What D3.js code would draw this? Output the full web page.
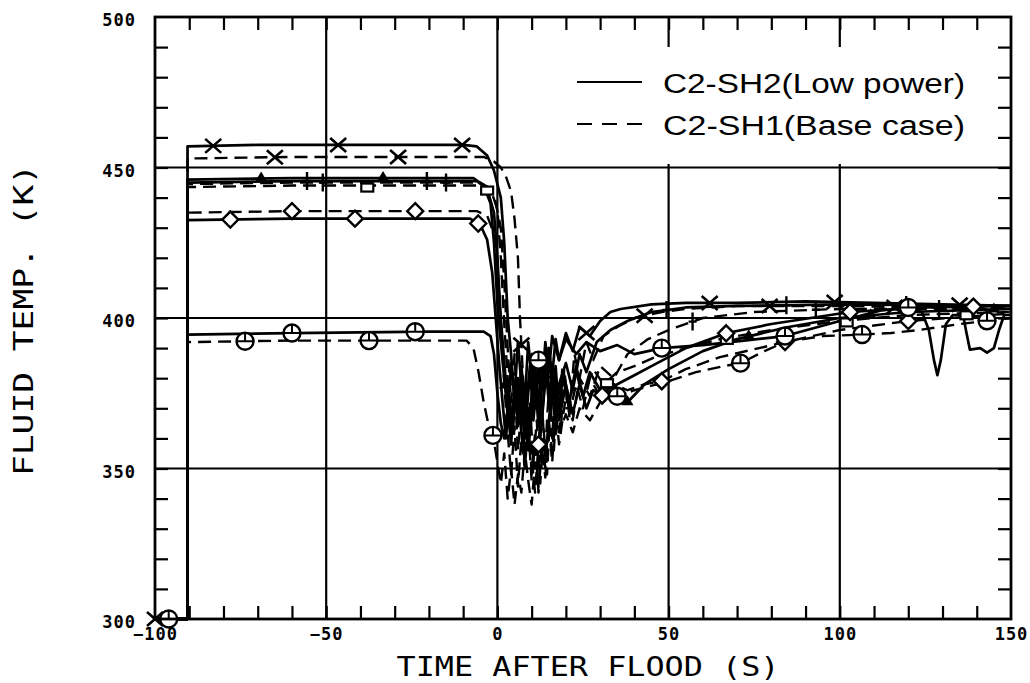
<!DOCTYPE html>
<html>
<head>
<meta charset="utf-8">
<script src="https://cdn.jsdelivr.net/npm/d3@7"></script>
<style>
  body { margin: 0; background: #fff; }
  svg { display: block; }
</style>
</head>
<body>
<div id="chart"></div>
<script>
// axis ticks
let xMajor = [-100, -50, 0, 50, 100, 150];
let xMinor = d3.range(-90, 150, 10);
let yMajor = [300, 350, 400, 450, 500];
let yMinor = d3.range(310, 500, 10);
let xGrid = [-50, 0, 50, 100];
let yGrid = [350, 400, 450];

// C2-SH2 (low power) runs, solid lines, [time s, temp K]
let xSolid = [[-100,300],[-90.5,300],[-90.5,457],[-70,457.5],[-40,457.5],[-10,457.5],[-6,457],[-3,454],[-1,449],[1,440],[2,425],[3,400],[4,388],[5,372],[6,380],[7,366],[8,378],[9,362],[10,374],[11,384],[12,370],[13,386],[14,377],[15,390],[16,381],[17,393],[18,386],[20,395],[22,389],[24,397],[27,394],[30,399],[33,402],[36,403],[45,404.5],[55,405],[70,405],[90,405.5],[110,405],[130,404.5],[150,404]];
let triSolid = [[-100,300],[-90.5,300],[-90.5,446],[-60,446.5],[-20,446.5],[-7,446.5],[-4,444],[-2,438],[-1,425],[0,405],[1,392],[2,380],[3,368],[4,385],[5,374],[6,392],[7,378],[8,360],[9,375],[10,388],[11,372],[12,384],[13,366],[14,380],[15,390],[16,374],[17,384],[18,368],[19,380],[21,372],[23,384],[25,374],[27,382],[30,376],[34,378],[38,372],[43,378],[50,383],[60,389],[70,393],[85,397],[100,400],[120,402],[150,403]];
let sqSolid = [[-100,300],[-90.5,300],[-90.5,445],[-60,445.5],[-20,445.5],[-6,445.5],[-3,443],[-1,435],[0,420],[1,400],[2,385],[3,372],[4,362],[5,376],[6,365],[7,382],[8,370],[9,356],[10,368],[11,380],[12,364],[13,377],[14,386],[15,372],[16,382],[17,368],[18,378],[20,385],[22,376],[24,388],[26,382],[29,392],[33,396],[38,399],[45,402],[55,403.5],[70,404],[100,404.5],[150,404]];
let diaSolid = [[-100,300],[-90.5,300],[-90.5,432.5],[-60,433],[-20,433],[-8,433],[-5,431],[-3,426],[-1.5,415],[-0.5,400],[0.5,385],[1.5,372],[2.5,360],[3.5,374],[4.5,362],[5.5,380],[6.5,368],[7.5,356],[8.5,372],[9.5,384],[10.5,366],[11.5,378],[12.5,360],[13.5,374],[14.5,386],[15.5,368],[16.5,378],[18,366],[20,378],[22,368],[24,378],[26,370],[28,376],[31,374],[35,378],[40,381],[45,384],[55,390],[67,395],[80,398],[103,402],[125,403.5],[150,404]];
let circSolid = [[-100,300],[-90.5,300],[-90.5,394.5],[-60,395],[-20,395.5],[-4,395.5],[-2,394],[-1,388],[0,375],[1,365],[2,360],[3,370],[4,358],[5,376],[6,366],[7,384],[8,372],[9,392],[10,380],[11,370],[12,386],[13,376],[14,392],[15,382],[16,394],[18,386],[20,393],[23,388],[26,392],[30,389],[35,391],[40,388],[48,390],[60,391],[72,392.5],[84,394],[100,399],[112,402.5],[120,403.5],[124,402],[126,396],[127.5,386],[128.5,381],[129.5,386],[131,398],[133,401],[136,401],[137,395],[138,389.5],[141,390],[143,388.5],[145,390],[146.5,396],[148,401],[150,401]];

// C2-SH1 (base case) runs, dashed lines
let xDash = [[-100,300],[-90.5,300],[-90.5,453],[-60,453.5],[-20,453.5],[-4,453.5],[-1,452],[1,450],[2.5,447],[4,442],[5,433],[6,420],[6.6,400],[7.5,380],[8.5,360],[9.5,372],[10.5,352],[11.5,366],[12.5,345],[13.5,360],[14.5,348],[15.5,371],[16.5,356],[17.5,377],[18.5,362],[19.5,383],[21,368],[22.5,388],[24,380],[26,392],[28,386],[31,394],[35,397],[40,400],[48,402],[55,403],[70,404],[100,404],[125,403.5],[150,403.5]];
let triDash = [[-100,300],[-90.5,300],[-90.5,444.5],[-60,445],[-20,445],[-5,445],[-2,443],[0,436],[1,420],[2,398],[3,380],[4,365],[5,378],[6,356],[7,370],[8,350],[9,364],[10,346],[11,360],[12,342],[13,357],[14,347],[15,365],[16,352],[17,370],[18,358],[20,374],[22,366],[24,380],[27,374],[30,384],[34,380],[38,388],[44,393],[50,396],[60,400],[75,402],[100,403],[150,403]];
let sqDash = [[-100,300],[-90.5,300],[-90.5,443.5],[-60,444],[-20,444],[-4,444],[-1,441],[1,430],[2,412],[3,390],[4,372],[5,388],[6,364],[7,378],[8,354],[9,370],[10,348],[11,362],[12,352],[13,370],[14,356],[15,376],[16,360],[17,380],[18,368],[19,384],[21,372],[23,382],[25,374],[28,383],[31,378],[35,382],[40,384],[46,387],[55,390],[65,393],[80,396],[100,399],[120,401],[150,402]];
let diaDash = [[-100,300],[-90.5,300],[-90.5,435],[-60,435.5],[-20,435.5],[-6,435.5],[-3,434],[-1,428],[0,416],[1,398],[2,378],[3,362],[4,348],[5,364],[6,344],[7,360],[8,350],[9,370],[10,354],[11,342],[12,358],[13,372],[14,352],[15,366],[16,378],[17,360],[18,372],[19,382],[21,368],[23,378],[25,370],[27,380],[30,374],[34,378],[38,376],[43,378],[48,379],[55,383],[65,387],[84,392],[100,396],[120,399],[150,401.5]];
let circDash = [[-100,300],[-90.5,300],[-90.5,392],[-60,392.5],[-20,392.5],[-9,392.5],[-7,390],[-5.5,382],[-4,372],[-2.5,364],[-1.3,361],[0,352],[1,345],[2,355],[3,340],[4,350],[5,338],[6,348],[7,342],[8,356],[9,346],[10,338],[11,352],[12,344],[13,360],[14,350],[15,366],[16,356],[17,372],[18,362],[20,368],[22,362],[24,370],[27,366],[30,372],[35,374],[40,376],[50,379],[58,382],[66,384],[71,385],[78,389],[84,392],[95,394],[106.5,394.5],[115,395],[123,396],[135,398],[150,400]];

// marker times along each run
let xSolidMarks = [-83, -46.5, -10.3, 26, 62, 98.5, 135];
let xDashMarks = [-100, -65, -29, 7, 43, 79.5, 116];
let triSolidMarks = [-69, -33.4, 2.2, 38, 73.4, 109, 145];
let triDashMarks = [-51, -15, 21, 57, 93, 129];
let sqSolidMarks = [-55.6, -20.6, 14.4, 49.4, 84.4, 119.4];
let sqDashMarks = [-38, -3, 32, 67, 102, 137];
let diaSolidMarks = [-78, -41.6, -5.6, 30.6, 66.8, 103, 139];
let diaDashMarks = [-60, -24, 12, 48, 84, 120];
let circSolidMarks = [-96, -60, -24, 12, 48, 84, 120];
let circDashMarks = [-73.7, -37.5, -1.3, 35, 71, 106.5, 143];

let runs = [
    {data: xSolid, marks: xSolidMarks, sym: "x", dashed: false},
    {data: xDash, marks: xDashMarks, sym: "x", dashed: true},
    {data: triSolid, marks: triSolidMarks, sym: "tri", dashed: false},
    {data: triDash, marks: triDashMarks, sym: "plus", dashed: true},
    {data: sqSolid, marks: sqSolidMarks, sym: "plus", dashed: false},
    {data: sqDash, marks: sqDashMarks, sym: "sq", dashed: true},
    {data: diaSolid, marks: diaSolidMarks, sym: "dia", dashed: false},
    {data: diaDash, marks: diaDashMarks, sym: "dia", dashed: true},
    {data: circSolid, marks: circSolidMarks, sym: "circ", dashed: false},
    {data: circDash, marks: circDashMarks, sym: "circ", dashed: true}
];

let legendLabels = ["C2-SH2(Low power)", "C2-SH1(Base case)"];

let width = 1030, height = 683;
let margin = {left: 155, right: 19, top: 17, bottom: 64};
let plotRight = width - margin.right, plotBottom = height - margin.bottom;

let svg = d3.select("#chart").append("svg")
    .attr("width", width)
    .attr("height", height)
    .style("background", "#fff");

let x = d3.scaleLinear().domain([-100, 150]).range([margin.left, plotRight]);
let y = d3.scaleLinear().domain([300, 500]).range([plotBottom, margin.top]);

svg.append("clipPath").attr("id", "plotClip")
    .append("rect")
    .attr("x", margin.left - 12).attr("y", margin.top)
    .attr("width", plotRight - margin.left + 12)
    .attr("height", plotBottom - margin.top + 12);

// grid lines
let grid = svg.append("g").attr("stroke", "#000").attr("stroke-width", 2.2);
grid.selectAll(".vg").data(xGrid).enter().append("line")
    .attr("x1", d => x(d)).attr("x2", d => x(d))
    .attr("y1", margin.top).attr("y2", plotBottom);
grid.selectAll(".hg").data(yGrid).enter().append("line")
    .attr("y1", d => y(d)).attr("y2", d => y(d))
    .attr("x1", margin.left).attr("x2", plotRight);

// data lines
function valueAt(data, t) {
    for (let i = 1; i < data.length; i++) {
        let a = data[i - 1], b = data[i];
        if (b[0] > a[0] && t >= a[0] && t <= b[0]) {
            return a[1] + (b[1] - a[1]) * (t - a[0]) / (b[0] - a[0]);
        }
    }
    return data[data.length - 1][1];
}

let line = d3.line().x(d => x(d[0])).y(d => y(d[1]));
let plot = svg.append("g").attr("clip-path", "url(#plotClip)");

runs.forEach(function (r) {
    plot.append("path")
        .datum(r.data)
        .attr("fill", "none")
        .attr("stroke", "#000")
        .attr("stroke-width", r.dashed ? 2.4 : 2.7)
        .attr("stroke-linejoin", "round")
        .attr("stroke-dasharray", r.dashed ? "13,7" : null)
        .attr("d", line);
});

// markers
function drawMarker(g, sym) {
    if (sym === "x") {
        g.append("path").attr("d", "M-8,-7L8,7M-8,7L8,-7")
            .attr("stroke", "#000").attr("stroke-width", 2.6).attr("fill", "none");
    } else if (sym === "tri") {
        g.append("path").attr("d", "M0,-7L6,3L-6,3Z").attr("fill", "#000");
    } else if (sym === "sq") {
        g.append("rect").attr("x", -6).attr("y", -2).attr("width", 12).attr("height", 8)
            .attr("fill", "#fff").attr("stroke", "#000").attr("stroke-width", 2.2);
    } else if (sym === "plus") {
        g.append("path").attr("d", "M0,-9L0,9M-4,0L4,0")
            .attr("stroke", "#000").attr("stroke-width", 2.4);
    } else if (sym === "dia") {
        g.append("path").attr("d", "M0,-8L8,0L0,8L-8,0Z")
            .attr("fill", "#fff").attr("stroke", "#000").attr("stroke-width", 2.4);
    } else if (sym === "circ") {
        g.append("circle").attr("r", 8.5)
            .attr("fill", "#fff").attr("stroke", "#000").attr("stroke-width", 2.4);
        g.append("path").attr("d", "M-8,0L8,0M0,-8L0,0")
            .attr("stroke", "#000").attr("stroke-width", 2);
    }
}

runs.forEach(function (r) {
    r.marks.forEach(function (t) {
        let g = plot.append("g")
            .attr("transform", "translate(" + x(t) + "," + y(valueAt(r.data, t)) + ")");
        drawMarker(g, r.sym);
    });
});

// legend box hides the grid behind it
let legend = svg.append("g");
legend.append("rect")
    .attr("x", 560).attr("y", 47).attr("width", 437).attr("height", 117)
    .attr("fill", "#fff");
legend.append("line")
    .attr("x1", 577).attr("x2", 642).attr("y1", 82).attr("y2", 82)
    .attr("stroke", "#000").attr("stroke-width", 2.2);
legend.append("line")
    .attr("x1", 577).attr("x2", 642).attr("y1", 124).attr("y2", 124)
    .attr("stroke", "#000").attr("stroke-width", 2.2)
    .attr("stroke-dasharray", "15,10");
legend.selectAll("text").data(legendLabels).enter().append("text")
    .attr("x", 663)
    .attr("y", (d, i) => 93 + i * 42)
    .attr("textLength", 302)
    .attr("lengthAdjust", "spacingAndGlyphs")
    .style("font-family", "'Liberation Sans', 'DejaVu Sans', sans-serif")
    .style("font-size", "27px")
    .text(d => d);

// minor ticks on all four sides
let tickLen = 13;
let ticks = svg.append("g");
ticks.append("g").attr("transform", "translate(0," + plotBottom + ")")
    .call(d3.axisBottom(x).tickValues(xMinor).tickSizeInner(-tickLen).tickSizeOuter(0).tickFormat(""));
ticks.append("g").attr("transform", "translate(0," + margin.top + ")")
    .call(d3.axisTop(x).tickValues(xMinor).tickSizeInner(-tickLen).tickSizeOuter(0).tickFormat(""));
ticks.append("g").attr("transform", "translate(" + margin.left + ",0)")
    .call(d3.axisLeft(y).tickValues(yMinor).tickSizeInner(-tickLen).tickSizeOuter(0).tickFormat(""));
ticks.append("g").attr("transform", "translate(" + plotRight + ",0)")
    .call(d3.axisRight(y).tickValues(yMinor).tickSizeInner(-tickLen).tickSizeOuter(0).tickFormat(""));
ticks.selectAll(".domain").remove();
ticks.selectAll("line").attr("stroke", "#000").attr("stroke-width", 2.2);

// frame
svg.append("rect")
    .attr("x", margin.left).attr("y", margin.top)
    .attr("width", plotRight - margin.left).attr("height", plotBottom - margin.top)
    .attr("fill", "none").attr("stroke", "#000").attr("stroke-width", 2.8);

// tick labels
let xLab = svg.append("g").attr("transform", "translate(0," + plotBottom + ")")
    .call(d3.axisBottom(x).tickValues(xMajor).tickSize(0).tickPadding(9));
let yLab = svg.append("g").attr("transform", "translate(" + margin.left + ",0)")
    .call(d3.axisLeft(y).tickValues(yMajor).tickSize(0).tickPadding(19));
[xLab, yLab].forEach(function (g) {
    g.select(".domain").remove();
    g.selectAll("text")
        .style("font-family", "'DejaVu Sans Mono', monospace")
        .style("font-weight", "bold")
        .style("font-size", "17px")
        .style("letter-spacing", "1px")
        .attr("fill", "#000");
});
yLab.selectAll("text").attr("dy", "0.5em");

// axis titles
svg.append("text")
    .attr("x", 588).attr("y", 676)
    .attr("text-anchor", "middle")
    .attr("textLength", 383)
    .attr("lengthAdjust", "spacingAndGlyphs")
    .style("font-family", "'DejaVu Sans Mono', monospace")
    .style("font-size", "26px")
    .text("TIME AFTER FLOOD (S)");

svg.append("text")
    .attr("transform", "translate(33,320) rotate(-90)")
    .attr("text-anchor", "middle")
    .attr("textLength", 312)
    .attr("lengthAdjust", "spacingAndGlyphs")
    .style("font-family", "'DejaVu Sans Mono', monospace")
    .style("font-size", "26px")
    .text("FLUID TEMP. (K)");
</script>
</body>
</html>
